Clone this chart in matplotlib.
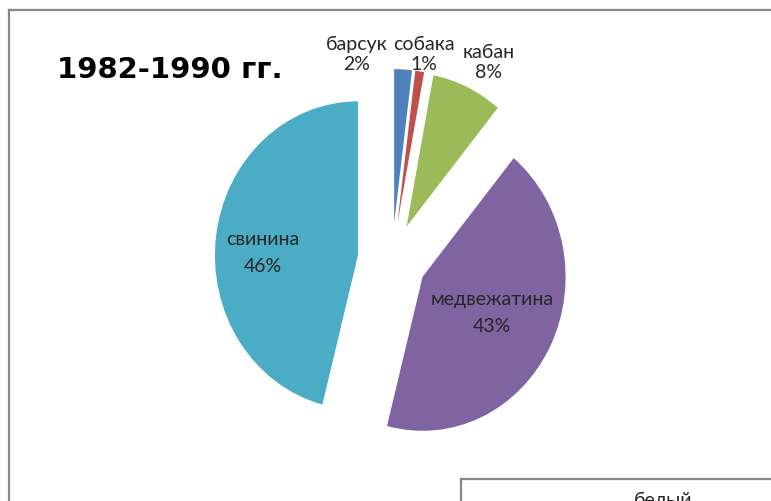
import matplotlib.pyplot as plt
from matplotlib.lines import Line2D

# данные диаграммы
labels = ["барсук", "собака", "кабан", "медвежатина", "свинина"]
shares = [2, 1, 8, 43, 46]
colors = ["#4F81BD", "#C0504D", "#9BBB59", "#8064A2", "#4BACC6"]
title = "1982-1990 гг."

# положения подписей (в координатах осей) и межстрочный интервал
label_pos = [(-0.245, 1.34), (0.224, 1.34), (0.678, 1.29), (0.699, -0.338), (-0.902, 0.052)]
label_spacing = [1.25, 1.25, 1.25, 1.75, 1.75]

W, H = 771, 502
fig = plt.figure(figsize=(W / 100, H / 100), dpi=100)
fig.patch.set_facecolor("white")

cx, cy = 392, 261      # центр круга, пиксели
rx, ry = 143, 154      # радиус, пиксели
ax = fig.add_axes([0, 0, 1, 1])
wedges, _ = ax.pie(shares, colors=colors, startangle=90, counterclock=False,
                   explode=[0.24] * len(shares))
ax.set_aspect("auto")
ax.set_xlim(-cx / rx, (W - cx) / rx)
ax.set_ylim((cy - H) / ry, cy / ry)
ax.axis("off")

for lab, v, (x, y), ls in zip(labels, shares, label_pos, label_spacing):
    ax.text(x, y, f"{lab}\n{v}%", ha="center", va="center", fontsize=14,
            family="Lato", color="#262626", linespacing=ls)

# рамка области диаграммы
def px_line(xs, ys):
    fig.add_artist(Line2D([x / W for x in xs], [1 - y / H for y in ys],
                          transform=fig.transFigure, color="#878787", lw=1.6))

px_line([9, W], [11, 11])
px_line([9, 9], [11, H])
px_line([461, W], [480, 480])
px_line([461, 461], [480, H])

fig.text(57 / W, 1 - 78 / H, title, fontsize=21, fontweight="bold",
         family="DejaVu Sans", ha="left", va="baseline")
fig.text(663 / W, 1 - 492 / H, "белый", fontsize=14, family="Lato",
         ha="center", va="top", color="#262626")

fig.savefig("out.png", dpi=100)
